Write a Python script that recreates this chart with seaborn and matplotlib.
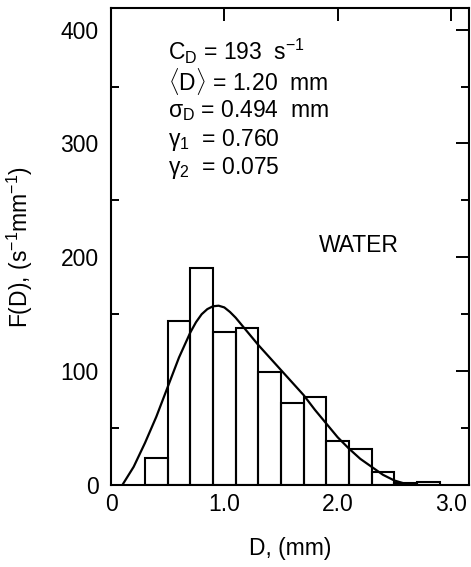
import numpy as np
import pandas as pd
import matplotlib
matplotlib.use("Agg")
import matplotlib.pyplot as plt
import seaborn as sns
from matplotlib.ticker import MultipleLocator

# ---- data ----
bin_edges = [0.3, 0.5, 0.7, 0.9, 1.1, 1.3, 1.5, 1.7, 1.9, 2.1, 2.3, 2.5, 2.7, 2.9]
bar_heights = [24, 144, 191, 134, 138, 99, 72, 77, 39, 32, 11, 2, 3]

curve_d = [0.10, 0.2, 0.3, 0.4, 0.5, 0.6, 0.7, 0.75, 0.8, 0.85, 0.9, 0.95, 1.0,
           1.05, 1.1, 1.2, 1.3, 1.4, 1.5, 1.6, 1.7, 1.8, 1.9, 2.0, 2.1, 2.2,
           2.3, 2.4, 2.5, 2.6]
curve_f = [0, 16, 37, 60, 86, 112, 134, 143, 150, 154.5, 157, 157.5, 156,
           152, 147, 135, 123, 112, 101, 90, 79, 66, 54, 42, 32, 23,
           16, 9, 4, 1]

annot_lines = [r"C$_\mathregular{D}$ = 193  s$^\mathregular{-1}$",
               r"$\langle$D$\rangle$ = 1.20  mm",
               r"$\sigma_\mathregular{D}$ = 0.494  mm",
               r"$\gamma_\mathregular{1}$  = 0.760",
               r"$\gamma_\mathregular{2}$  = 0.075"]
label_text = "WATER"
x_ticks = [0, 1.0, 2.0, 3.0]
x_ticklabels = ["0", "1.0", "2.0", "3.0"]
y_ticks = [0, 100, 200, 300, 400]

# ---- plotting ----
sns.set_theme(style="white")
plt.rcParams["font.family"] = ["Liberation Sans", "DejaVu Sans"]
plt.rcParams["mathtext.fontset"] = "custom"
plt.rcParams["mathtext.rm"] = "Liberation Sans"
plt.rcParams["mathtext.it"] = "Liberation Sans"
plt.rcParams["text.color"] = "black"
plt.rcParams["axes.labelcolor"] = "black"
plt.rcParams["xtick.color"] = "black"
plt.rcParams["ytick.color"] = "black"

fig = plt.figure(figsize=(4.71, 5.67), dpi=100)
ax = fig.add_axes([0.2357, 0.1446, 0.7601, 0.8413])

centers = [(a + b) / 2 for a, b in zip(bin_edges[:-1], bin_edges[1:])]
df = pd.DataFrame({"D": centers, "F": bar_heights})
sns.histplot(data=df, x="D", weights="F", bins=bin_edges, fill=False,
             element="bars", color="black", linewidth=1.5, ax=ax)

cdf = pd.DataFrame({"D": curve_d, "F": curve_f})
sns.lineplot(data=cdf, x="D", y="F", color="black", linewidth=1.6, ax=ax)

ax.set_xlim(0, 3.16)
ax.set_ylim(0, 419)
ax.set_xticks(x_ticks)
ax.set_xticklabels(x_ticklabels)
ax.set_yticks(y_ticks)
ax.yaxis.set_minor_locator(MultipleLocator(50))

fs = 16.5
ax.tick_params(which="both", direction="in", top=True, right=True,
               labelsize=fs, colors="black", width=1.4)
ax.tick_params(which="major", length=9.5)
ax.tick_params(which="minor", length=6, left=True, right=True)
ax.tick_params(axis="x", pad=6)
ax.tick_params(axis="y", pad=9)
for s in ax.spines.values():
    s.set_visible(True)
    s.set_color("black")
    s.set_linewidth(1.5)

ax.set_xlabel("D, (mm)", fontsize=fs, labelpad=15)
ax.set_ylabel(r"F(D), (s$^\mathregular{-1}$mm$^\mathregular{-1}$)", fontsize=fs, labelpad=18)

ys = [0.908, 0.845, 0.786, 0.723, 0.665]
for t, y in zip(annot_lines, ys):
    ax.text(0.159, y, t, transform=ax.transAxes, fontsize=fs, va="center",
            ha="left", color="black")
ax.text(0.693, 0.503, label_text, transform=ax.transAxes, fontsize=fs,
        va="center", ha="center", color="black")

fig.savefig("out.png", dpi=100)
